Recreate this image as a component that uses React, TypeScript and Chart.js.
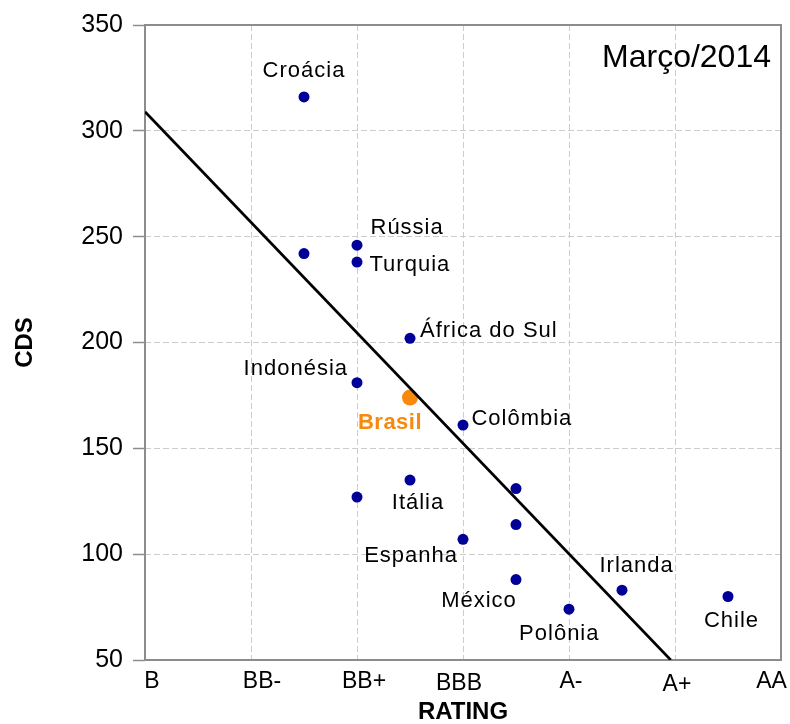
import { useEffect, useRef } from 'react';
import { Chart, registerables } from 'chart.js';

Chart.register(...registerables);

// ---- data ----
const ratingLabels = ['B', 'BB-', 'BB+', 'BBB', 'A-', 'A+', 'AA'];
const countryNames = ['Croácia', '', 'Rússia', 'Turquia', 'África do Sul', 'Indonésia', 'Colômbia', 'Itália', '', '', '', 'Espanha', 'México', 'Polônia', 'Irlanda', 'Chile'];
const ratingPositions = [1.5, 1.5, 2, 2, 2.5, 2, 3, 2.5, 2, 3.5, 3.5, 3, 3.5, 4, 4.5, 5.5];
const cdsValues = [316, 242, 246, 238, 202, 181, 161, 135, 127, 131, 114, 107, 88, 74, 83, 80];
const brasilName = 'Brasil';
const brasilRating = [2.5];
const brasilCds = [174];
const trendRating = [0, 4.96];
const trendCds = [309, 50];
const periodLabel = 'Março/2014';

// ---- layout / style ----
const FONT = "'Liberation Sans', Arial, sans-serif";
type Lay = { dx: number; dy: number; align: CanvasTextAlign };
const labelLayout: Record<string, Lay> = {
  'Croácia': { dx: 0, dy: -26.5, align: 'center' },
  'Rússia': { dx: 13.5, dy: -17, align: 'left' },
  'Turquia': { dx: 12.5, dy: 2.6, align: 'left' },
  'África do Sul': { dx: 10, dy: -7.7, align: 'left' },
  'Indonésia': { dx: -9, dy: -13.4, align: 'right' },
  'Colômbia': { dx: 8.4, dy: -6, align: 'left' },
  'Itália': { dx: 8, dy: 22.6, align: 'center' },
  'Espanha': { dx: -5, dy: 16.3, align: 'right' },
  'México': { dx: -37, dy: 21.4, align: 'center' },
  'Polônia': { dx: -9.7, dy: 25, align: 'center' },
  'Irlanda': { dx: 14.6, dy: -24.3, align: 'center' },
  'Chile': { dx: 3.5, dy: 24, align: 'center' },
  'Brasil': { dx: -20, dy: 25.4, align: 'center' },
};
// per-tick label nudges (px) for the rating axis
const xTickNudge: Array<[number, number]> = [[7, 0], [11, 0], [7, 0], [-4, 2], [2, 0], [2, 3], [-9.5, 0]];

const boxPlugin = {
  id: 'boxBorder',
  beforeDatasetsDraw(chart: any) {
    const { ctx, chartArea } = chart;
    ctx.save();
    ctx.strokeStyle = '#8c8c8c';
    ctx.lineWidth = 2;
    ctx.setLineDash([]);
    ctx.strokeRect(chartArea.left, chartArea.top, chartArea.right - chartArea.left, chartArea.bottom - chartArea.top);
    ctx.restore();
  },
};

const labelPlugin = {
  id: 'pointLabels',
  afterDatasetsDraw(chart: any) {
    const { ctx, chartArea } = chart;
    const xs = chart.scales.x;
    const ys = chart.scales.y;
    ctx.save();
    ctx.textBaseline = 'middle';
    ctx.fillStyle = '#000';
    ctx.font = `22px ${FONT}`;
    (ctx as any).letterSpacing = '1px';
    countryNames.forEach((name, i) => {
      if (!name) return;
      const lay = labelLayout[name];
      const px = xs.getPixelForValue(ratingPositions[i]);
      const py = ys.getPixelForValue(cdsValues[i]);
      ctx.textAlign = lay.align;
      ctx.fillText(name, px + lay.dx, py + lay.dy);
    });
    const bl = labelLayout[brasilName];
    ctx.font = `bold 22px ${FONT}`;
    (ctx as any).letterSpacing = '0.5px';
    ctx.fillStyle = '#f7890c';
    ctx.textAlign = bl.align;
    ctx.fillText(brasilName, xs.getPixelForValue(brasilRating[0]) + bl.dx, ys.getPixelForValue(brasilCds[0]) + bl.dy);

    // rating tick labels
    ctx.font = `23px ${FONT}`;
    (ctx as any).letterSpacing = '0px';
    ctx.fillStyle = '#000';
    ctx.textAlign = 'center';
    ratingLabels.forEach((lab, i) => {
      const [nx, ny] = xTickNudge[i];
      ctx.fillText(lab, xs.getPixelForValue(i) + nx, chartArea.bottom + 22 + ny);
    });

    ctx.font = `32px ${FONT}`;
    ctx.textAlign = 'right';
    ctx.textBaseline = 'alphabetic';
    ctx.fillText(periodLabel, chartArea.right - 10, chartArea.top + 42);
    ctx.restore();
  },
};

export default function App() {
  const ref = useRef<HTMLCanvasElement | null>(null);
  useEffect(() => {
    if (!ref.current) return;
    const chart = new Chart(ref.current, {
      type: 'scatter',
      data: {
        datasets: [
          {
            type: 'line',
            label: 'trend',
            data: trendRating.map((x, i) => ({ x, y: trendCds[i] })),
            borderColor: '#000',
            borderWidth: 2.7,
            pointRadius: 0,
            fill: false,
            order: 0,
          } as any,
          {
            label: 'países',
            data: ratingPositions.map((x, i) => ({ x, y: cdsValues[i] })),
            backgroundColor: '#000099',
            borderWidth: 0,
            pointRadius: 5.5,
            order: 2,
          },
          {
            label: brasilName,
            data: brasilRating.map((x, i) => ({ x, y: brasilCds[i] })),
            backgroundColor: '#f7890c',
            borderWidth: 0,
            pointRadius: 8,
            order: 1,
          },
        ],
      },
      options: {
        animation: false,
        responsive: false,
        maintainAspectRatio: false,
        layout: { padding: { top: 25, right: 9, left: 0, bottom: 0 } },
        plugins: { legend: { display: false }, tooltip: { enabled: false } },
        scales: {
          x: {
            type: 'linear',
            min: 0,
            max: 6,
            afterFit: (s: any) => { s.height = 64; },
            ticks: { stepSize: 1, display: false },
            grid: { color: '#cccccc', lineWidth: 1, drawTicks: false },
            border: { display: false, dash: [6, 3] },
            title: {
              display: true,
              text: 'RATING',
              color: '#000',
              font: { family: FONT, size: 24, weight: 'bold', lineHeight: 1 },
              padding: { top: 0, bottom: 0 },
            },
          },
          y: {
            type: 'linear',
            min: 50,
            max: 350,
            afterFit: (s: any) => { s.width = 145; },
            ticks: {
              stepSize: 50,
              padding: 10,
              color: '#000',
              font: { family: FONT, size: 25 },
            },
            grid: {
              color: '#cccccc',
              lineWidth: 1,
              drawTicks: true,
              tickLength: 12,
              tickColor: '#8c8c8c',
              tickWidth: 1.5,
              tickBorderDash: [],
            },
            border: { display: false, dash: [6, 3] },
            title: {
              display: true,
              text: 'CDS',
              color: '#000',
              font: { family: FONT, size: 24, weight: 'bold', lineHeight: 1.2 },
              padding: { top: 11, bottom: 0 },
            },
          },
        },
      },
      plugins: [boxPlugin, labelPlugin],
    } as any);
    return () => chart.destroy();
  }, []);
  return (
    <canvas
      ref={ref}
      width={790}
      height={724}
      style={{ position: 'absolute', left: 0, top: 0, width: 790, height: 724 }}
    />
  );
}
